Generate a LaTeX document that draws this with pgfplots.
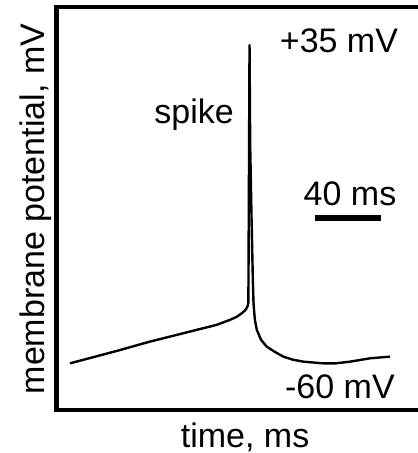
\documentclass[border=0pt]{standalone}
\usepackage{pgfplots}
\pgfplotsset{compat=1.18}
\usepackage{fontspec}
\setmainfont{Liberation Sans}
\begin{document}
\begin{tikzpicture}
\begin{axis}[
  scale only axis,
  width=180.75pt, height=201.5pt,
  xmin=-8.18, xmax=210.9,
  ymin=-74.19, ymax=46.22,
  hide axis,
  clip=false,
  font=\fontsize{17}{20}\selectfont,
]
\coordinate (ll) at (rel axis cs:0,0);
\coordinate (ur) at (rel axis cs:1,1);
\draw[line width=2pt, line cap=rect] (rel axis cs:1.02,1) -- (rel axis cs:0,1) -- (rel axis cs:0,0) -- (rel axis cs:1.02,0);
\addplot[black, line width=1.2pt, line join=round] coordinates {
(0,-60.1) (28.3,-56.4) (48.5,-53.6) (68.7,-51.1) (88.9,-48.6) (97.0,-47.1)
(101,-46.2) (104.5,-45.0) (106.6,-44.0) (107.6,-43.0) (108.1,-42.0)
(108.8,35.0) (109.2,5) (110.0,-16.4) (110.8,-35) (111.2,-42) (112.0,-47.0)
(113.2,-50.1) (115.8,-53.1) (119.2,-55.1) (124.2,-56.7) (129.3,-58.1)
(135,-59.0) (141.4,-59.6) (153.5,-60.1) (161,-60.1) (169.7,-59.6)
(181.8,-58.6) (193.9,-58.1)
};
\addplot[black, line width=3pt, line cap=butt] coordinates {(148.5,-16.7) (188.5,-16.7)};
\node[anchor=base] at (axis cs:163,32.9) {+35 mV};
\node[anchor=base] at (axis cs:75.2,11.7) {spike};
\node[anchor=base] at (axis cs:169.7,-12.8) {40 ms};
\node[anchor=base] at (axis cs:163.6,-70.5) {-60 mV};
\node[anchor=base] at (axis cs:106.1,-85.2) {time, ms};
\node[anchor=base, rotate=90] at (axis cs:-15.15,-14.0) {membrane potential, mV};
\end{axis}
\pgfresetboundingbox
\path ([shift={(-28.25pt,-21.25pt)}]ll) rectangle ([shift={(-0.5pt,3.75pt)}]ur);
\end{tikzpicture}
\end{document}
